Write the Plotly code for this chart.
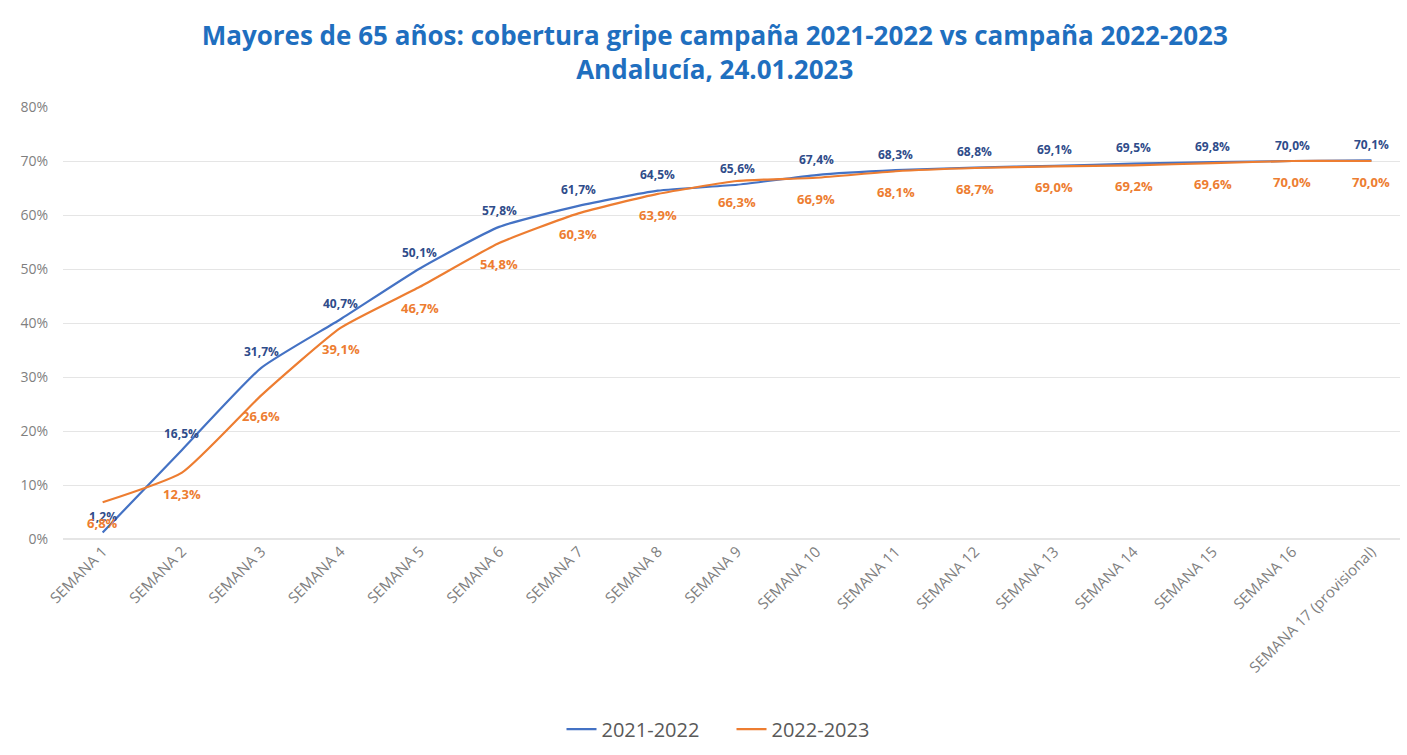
import plotly.graph_objects as go

categories = [f"SEMANA {i}" for i in range(1, 17)] + ["SEMANA 17 (provisional)"]
serie_2122 = [1.2, 16.5, 31.7, 40.7, 50.1, 57.8, 61.7, 64.5, 65.6, 67.4, 68.3, 68.8, 69.1, 69.5, 69.8, 70.0, 70.1]
serie_2223 = [6.8, 12.3, 26.6, 39.1, 46.7, 54.8, 60.3, 63.9, 66.3, 66.9, 68.1, 68.7, 69.0, 69.2, 69.6, 70.0, 70.0]
y_ticks = [0, 10, 20, 30, 40, 50, 60, 70, 80]

def fmt(v):
    return f"{v:.1f}%".replace(".", ",")

FONT = "Open Sans"
BLUE = "#4472C4"
ORANGE = "#ED7D31"

fig = go.Figure()
fig.add_trace(go.Scatter(
    x=categories, y=serie_2122, name="2021-2022", mode="lines",
    line=dict(color=BLUE, width=2.2, shape="spline", smoothing=0.5),
))
fig.add_trace(go.Scatter(
    x=categories, y=serie_2223, name="2022-2023", mode="lines",
    line=dict(color=ORANGE, width=2.2, shape="spline", smoothing=0.5),
))

annotations = []
for c, v in zip(categories, serie_2122):
    annotations.append(dict(x=c, y=v, xref="x", yref="y", text=fmt(v), showarrow=False,
                            yshift=16, font=dict(family=FONT, size=12, color="#2F4C8A", weight="bold")))
for c, v in zip(categories, serie_2223):
    annotations.append(dict(x=c, y=v, xref="x", yref="y", text=fmt(v), showarrow=False,
                            yshift=-21, font=dict(family=FONT, size=13, color=ORANGE, weight="bold")))

fig.update_layout(
    width=1407, height=755,
    paper_bgcolor="white", plot_bgcolor="white",
    margin=dict(l=63, r=7, t=107, b=214),
    title=dict(
        text="Mayores de 65 años: cobertura gripe campaña 2021-2022 vs campaña 2022-2023<br>Andalucía, 24.01.2023",
        x=0.508, xanchor="center", yref="container", y=0.940, yanchor="middle",
        font=dict(family=FONT, size=26, color="#1F6FBF", weight="bold"),
    ),
    xaxis=dict(
        type="category", range=[-0.5, 16.36],
        tickangle=-45, tickfont=dict(family=FONT, size=15, color="#7F7F7F"),
        showgrid=False, showline=False, ticks="",
    ),
    yaxis=dict(
        range=[0, 80], tickvals=y_ticks, ticktext=[f"{v}%" for v in y_ticks],
        tickfont=dict(family=FONT, size=14, color="#7F7F7F"),
        ticklabelstandoff=14,
        showgrid=True, gridcolor="#E5E5E5", gridwidth=1,
        zeroline=True, zerolinecolor="#E5E5E5", ticks="", ticklen=0,
    ),
    legend=dict(
        orientation="h", x=0.5, xanchor="center", y=-0.44, yanchor="middle",
        font=dict(family=FONT, size=20, color="#595959"),
        entrywidthmode="pixels", entrywidth=125,
    ),
    annotations=annotations,
    showlegend=True,
)

fig.write_html("out.html", config={"displayModeBar": False},
               post_script="document.body.style.margin='0';")
